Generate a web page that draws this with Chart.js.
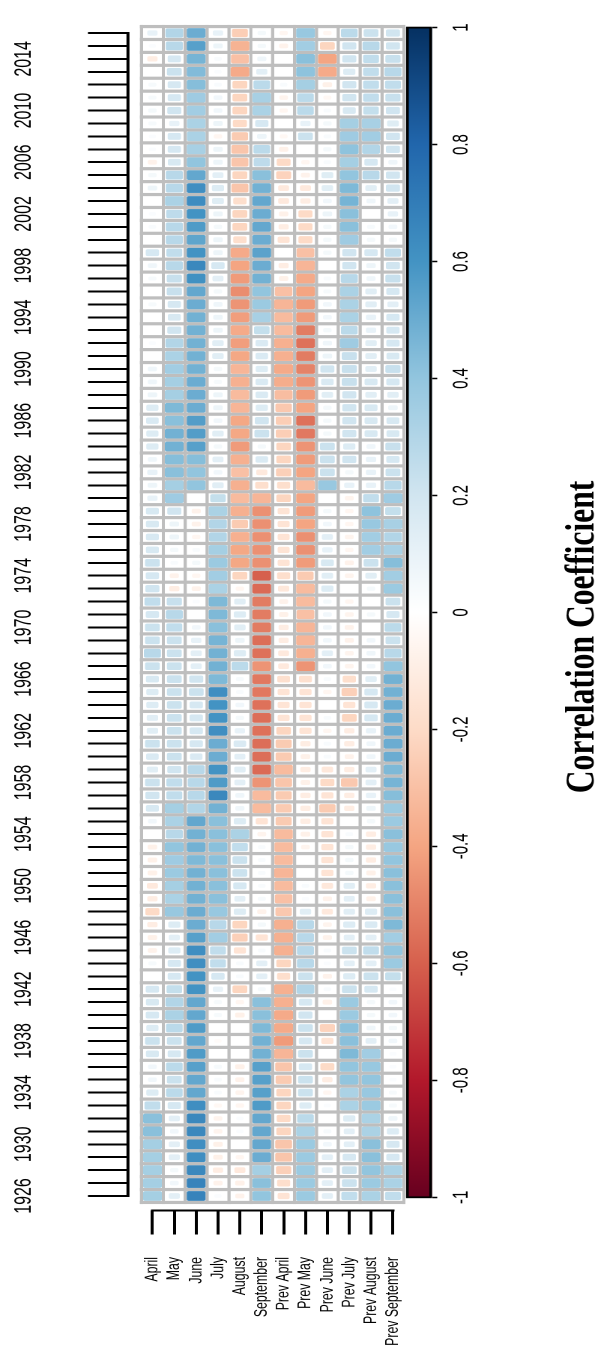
<!DOCTYPE html>
<html>
<head>
<meta charset="utf-8">
<script src="https://cdn.jsdelivr.net/npm/chart.js@4.4.1/dist/chart.umd.min.js"></script>
<style>
  html, body { margin: 0; padding: 0; background: #fff; overflow: hidden; width: 595px; height: 1354px; }
  /* chart is laid out in landscape, then turned a quarter counter-clockwise */
  #wrap { position: absolute; left: 0; top: 0; width: 1354px; height: 410px;
          transform-origin: 0 0; transform: matrix(0, -1, 1.49874, 0, 0, 1354); }
</style>
</head>
<body>
<div id="wrap"><canvas id="heat" width="1354" height="410"></canvas></div>
<script>
const months = ['April', 'May', 'June', 'July', 'August', 'September',
  'Prev April', 'Prev May', 'Prev June', 'Prev July', 'Prev August', 'Prev September'];

const years = [];
for (let y = 1926; y <= 2016; y++) years.push(y);

const labeledYears = [1926, 1930, 1934, 1938, 1942, 1946, 1950, 1954, 1958, 1962, 1966, 1970,
  1974, 1978, 1982, 1986, 1990, 1994, 1998, 2002, 2006, 2010, 2014];
const colorTicks = [-1, -0.8, -0.6, -0.4, -0.2, 0, 0.2, 0.4, 0.6, 0.8, 1];

// correlation per month, 1926 -> 2016
const april = [0.34, 0.34, 0.34, 0.34, 0.34, 0.42, 0.42, 0.25, 0.15, 0.06,
  0.06, 0.17, 0.22, 0.15, 0.18, 0.17, 0.18, 0.00, 0.04, -0.07,
  -0.08, -0.10, -0.20, -0.10, -0.12, -0.08, -0.08, -0.08, 0.00, 0.06,
  0.17, 0.20, 0.22, 0.13, 0.16, 0.22, 0.13, 0.13, 0.15, 0.15,
  0.17, 0.22, 0.28, 0.22, 0.22, 0.18, 0.25, 0.20, 0.18, 0.22,
  0.17, 0.17, 0.17, 0.17, 0.10, 0.08, 0.10, 0.07, 0.15, 0.15,
  0.16, 0.15, 0.08, 0.07, 0.07, 0.00, 0.02, 0.00, 0.00, 0.04,
  0.00, 0.04, 0.07, 0.18, 0.00, 0.03, 0.02, 0.00, 0.08, 0.05,
  -0.07, 0.02, 0.02, 0.04, 0.05, 0.04, 0.04, 0.00, -0.10, 0.02, 0.10];
const may = [0.12, 0.06, 0.05, 0.12, 0.12, 0.06, 0.12, 0.18, 0.27, 0.22,
  0.27, 0.18, 0.22, 0.27, 0.32, 0.30, 0.24, 0.18, 0.18, 0.15,
  0.12, 0.15, 0.38, 0.32, 0.34, 0.37, 0.36, 0.40, 0.28, 0.32,
  0.34, 0.25, 0.25, 0.20, 0.22, 0.22, 0.22, 0.22, 0.22, 0.22,
  0.22, 0.22, 0.22, 0.22, 0.25, 0.28, 0.23, -0.10, -0.07, 0.03,
  0.05, 0.08, 0.08, 0.20, 0.36, 0.34, 0.42, 0.43, 0.48, 0.48,
  0.42, 0.45, 0.34, 0.34, 0.35, 0.32, 0.30, 0.20, 0.17, 0.18,
  0.23, 0.23, 0.28, 0.25, 0.28, 0.28, 0.26, 0.32, 0.28, 0.28,
  0.17, 0.18, 0.18, 0.10, 0.20, 0.18, 0.18, 0.22, 0.18, 0.28, 0.30];
const june = [0.67, 0.67, 0.65, 0.62, 0.62, 0.65, 0.65, 0.62, 0.52, 0.52,
  0.55, 0.57, 0.52, 0.57, 0.52, 0.52, 0.60, 0.60, 0.62, 0.62,
  0.55, 0.50, 0.50, 0.48, 0.48, 0.48, 0.45, 0.48, 0.48, 0.52,
  0.30, 0.28, 0.28, 0.28, 0.16, 0.18, 0.18, 0.18, 0.18, 0.22,
  0.20, 0.12, 0.12, 0.10, 0.06, 0.00, 0.02, -0.07, -0.05, 0.05,
  0.03, -0.05, -0.07, -0.07, 0.00, 0.40, 0.40, 0.43, 0.55, 0.56,
  0.56, 0.50, 0.50, 0.50, 0.48, 0.48, 0.48, 0.48, 0.48, 0.50,
  0.52, 0.61, 0.65, 0.60, 0.53, 0.57, 0.60, 0.63, 0.62, 0.52,
  0.40, 0.33, 0.32, 0.32, 0.35, 0.36, 0.43, 0.44, 0.47, 0.55, 0.50];
const july = [0.02, -0.07, -0.10, -0.08, -0.08, -0.06, -0.06, -0.04, 0.03, 0.03,
  0.04, 0.00, -0.02, 0.00, 0.04, 0.04, 0.10, 0.18, 0.25, 0.25,
  0.35, 0.28, 0.38, 0.42, 0.42, 0.42, 0.42, 0.42, 0.42, 0.42,
  0.48, 0.65, 0.57, 0.60, 0.50, 0.50, 0.62, 0.60, 0.60, 0.62,
  0.45, 0.48, 0.48, 0.47, 0.42, 0.45, 0.45, 0.32, 0.35, 0.37,
  0.34, 0.30, 0.30, 0.32, 0.24, 0.13, 0.06, 0.12, 0.05, 0.13,
  0.06, 0.08, 0.08, 0.04, 0.05, 0.13, 0.13, 0.08, 0.08, 0.07,
  0.05, 0.12, 0.18, 0.08, 0.08, 0.05, 0.08, 0.14, 0.15, 0.12,
  0.08, 0.08, -0.05, 0.08, 0.06, 0.06, 0.03, 0.02, 0.03, 0.08, 0.10];
const august = [-0.07, -0.08, -0.12, -0.05, 0.00, 0.02, 0.02, -0.05, -0.06, -0.07,
  -0.08, 0.00, 0.00, 0.00, -0.08, -0.05, -0.22, 0.03, 0.03, -0.15,
  -0.24, -0.22, 0.15, 0.12, 0.18, 0.22, 0.22, 0.25, 0.32, 0.15,
  0.07, 0.07, 0.12, 0.13, 0.12, 0.16, 0.10, 0.05, 0.06, 0.03,
  0.04, 0.27, 0.15, 0.08, 0.13, 0.15, 0.13, -0.05, -0.22, -0.39,
  -0.39, -0.36, -0.26, -0.36, -0.32, -0.36, -0.30, -0.36, -0.43, -0.39,
  -0.39, -0.34, -0.32, -0.36, -0.34, -0.39, -0.42, -0.38, -0.42, -0.45,
  -0.47, -0.43, -0.40, -0.38, -0.18, -0.22, -0.22, -0.18, -0.28, -0.22,
  -0.28, -0.28, -0.26, -0.20, -0.22, -0.22, -0.22, -0.38, -0.30, -0.35, -0.25];
const september = [0.40, 0.42, 0.34, 0.50, 0.52, 0.52, 0.52, 0.57, 0.55, 0.55,
  0.55, 0.48, 0.48, 0.45, 0.42, 0.42, 0.04, 0.12, 0.12, 0.03,
  -0.15, 0.05, -0.07, 0.04, 0.03, 0.03, 0.03, 0.03, -0.06, -0.15,
  -0.32, -0.32, -0.45, -0.57, -0.56, -0.56, -0.55, -0.56, -0.55, -0.53,
  -0.53, -0.45, -0.55, -0.56, -0.52, -0.52, -0.52, -0.57, -0.60, -0.46,
  -0.46, -0.46, -0.46, -0.46, -0.34, -0.18, -0.12, 0.16, 0.05, 0.22,
  0.20, 0.15, 0.16, 0.16, 0.15, 0.16, 0.16, 0.24, 0.33, 0.37,
  0.40, 0.48, 0.50, 0.54, 0.50, 0.52, 0.50, 0.52, 0.48, 0.42,
  0.26, 0.27, 0.08, 0.18, 0.32, 0.33, 0.27, 0.12, 0.07, 0.05, 0.05];
const prevApril = [-0.15, -0.18, -0.24, -0.28, -0.28, -0.22, -0.20, -0.22, -0.22, -0.26,
  -0.28, -0.34, -0.43, -0.38, -0.38, -0.36, -0.36, -0.18, -0.22, -0.36,
  -0.36, -0.36, -0.27, -0.30, -0.32, -0.34, -0.32, -0.32, -0.32, -0.26,
  -0.26, -0.26, -0.28, -0.32, -0.26, -0.26, -0.22, -0.15, -0.15, -0.15,
  -0.17, -0.12, -0.12, -0.10, -0.10, -0.08, -0.07, -0.13, -0.18, -0.15,
  -0.15, -0.15, -0.15, -0.15, -0.22, -0.18, -0.24, -0.22, -0.22, -0.25,
  -0.25, -0.27, -0.31, -0.37, -0.38, -0.36, -0.36, -0.32, -0.32, -0.34,
  -0.30, -0.08, -0.10, 0.00, -0.15, -0.10, -0.08, -0.12, -0.12, -0.23,
  -0.20, -0.08, -0.04, 0.00, -0.05, -0.06, 0.03, 0.00, 0.00, -0.07, -0.05];
const prevMay = [0.37, 0.37, 0.37, 0.37, 0.37, 0.32, 0.27, 0.15, 0.22, 0.22,
  0.18, 0.22, 0.18, 0.22, 0.20, 0.18, 0.30, 0.22, 0.28, 0.28,
  0.28, 0.28, 0.13, 0.02, 0.03, 0.00, 0.00, -0.06, -0.08, -0.10,
  -0.10, -0.10, -0.08, -0.10, -0.08, -0.10, -0.15, -0.15, -0.15, -0.15,
  -0.17, -0.45, -0.36, -0.34, -0.34, -0.30, -0.32, -0.32, -0.26, -0.43,
  -0.46, -0.46, -0.40, -0.43, -0.40, -0.32, -0.40, -0.43, -0.45, -0.53,
  -0.55, -0.40, -0.43, -0.45, -0.50, -0.52, -0.55, -0.52, -0.43, -0.43,
  -0.40, -0.38, -0.34, -0.30, -0.20, -0.20, -0.20, -0.10, -0.12, -0.07,
  -0.05, 0.00, 0.22, 0.10, 0.27, 0.27, 0.34, 0.41, 0.42, 0.35, 0.38];
const prevJune = [0.12, 0.12, 0.12, 0.12, 0.06, 0.04, 0.00, 0.02, -0.05, -0.10,
  -0.20, 0.00, -0.15, -0.23, 0.00, -0.08, 0.03, -0.07, 0.02, 0.03,
  -0.07, -0.06, -0.12, -0.07, -0.13, -0.15, -0.15, -0.15, -0.15, -0.15,
  -0.26, -0.15, -0.20, -0.13, 0.03, 0.03, -0.05, 0.03, 0.00, -0.05,
  0.03, 0.06, 0.12, 0.06, 0.06, 0.06, 0.05, 0.15, 0.13, 0.17,
  0.10, 0.12, 0.06, 0.05, 0.00, 0.38, 0.22, 0.22, 0.22, 0.05,
  0.05, 0.05, 0.13, 0.16, 0.20, 0.08, 0.07, 0.05, 0.06, 0.06,
  0.04, 0.03, 0.00, 0.05, 0.05, 0.05, 0.08, 0.06, 0.13, 0.14,
  0.03, 0.05, 0.03, 0.05, 0.03, -0.04, -0.08, -0.38, -0.40, -0.22, -0.05];
const prevJuly = [0.25, 0.22, 0.22, 0.18, 0.12, 0.12, 0.15, 0.32, 0.32, 0.40,
  0.40, 0.45, 0.42, 0.42, 0.37, 0.37, 0.22, 0.15, 0.12, 0.22,
  0.12, 0.15, 0.13, 0.12, 0.13, 0.05, 0.05, 0.05, 0.03, 0.00,
  -0.10, -0.10, -0.27, -0.10, -0.07, -0.10, -0.10, -0.22, -0.15, -0.24,
  -0.18, -0.06, -0.06, -0.07, -0.07, -0.06, -0.05, 0.00, -0.06, -0.07,
  -0.05, -0.06, -0.05, -0.05, -0.06, 0.10, 0.05, 0.20, 0.15, 0.20,
  0.20, 0.20, 0.20, 0.23, 0.23, 0.23, 0.36, 0.27, 0.32, 0.32,
  0.32, 0.28, 0.20, 0.20, 0.36, 0.42, 0.42, 0.47, 0.45, 0.40,
  0.34, 0.41, 0.36, 0.34, 0.17, 0.20, 0.20, 0.15, 0.20, 0.20, 0.27];
const prevAugust = [0.32, 0.37, 0.40, 0.42, 0.42, 0.32, 0.32, 0.37, 0.38, 0.40,
  0.38, 0.35, 0.12, 0.07, 0.05, 0.05, 0.18, 0.22, 0.12, 0.25,
  0.12, 0.16, 0.15, -0.08, -0.10, -0.08, -0.10, -0.10, -0.10, 0.05,
  0.08, 0.10, 0.12, 0.12, 0.07, 0.07, 0.10, 0.18, 0.18, 0.18,
  0.13, 0.06, 0.07, 0.06, 0.00, 0.05, 0.00, 0.05, 0.13, 0.22,
  0.35, 0.35, 0.38, 0.41, 0.25, 0.10, 0.10, 0.10, 0.07, 0.17,
  0.17, 0.17, 0.13, 0.17, 0.13, 0.13, 0.13, 0.10, 0.10, 0.13,
  0.13, 0.07, 0.08, 0.18, 0.05, 0.04, 0.00, 0.07, 0.13, 0.28,
  0.18, 0.30, 0.35, 0.33, 0.24, 0.25, 0.25, 0.25, 0.25, 0.28, 0.22];
const prevSeptember = [0.25, 0.32, 0.32, 0.18, 0.18, 0.15, 0.07, 0.04, 0.04, 0.02,
  0.02, 0.02, 0.06, 0.05, 0.06, 0.06, 0.02, 0.24, 0.37, 0.40,
  0.35, 0.45, 0.42, 0.42, 0.42, 0.42, 0.40, 0.38, 0.42, 0.37,
  0.37, 0.43, 0.47, 0.45, 0.50, 0.50, 0.50, 0.50, 0.50, 0.48,
  0.48, 0.40, 0.28, 0.22, 0.27, 0.18, 0.22, 0.37, 0.35, 0.43,
  0.33, 0.30, 0.33, 0.24, 0.36, 0.28, 0.22, 0.18, 0.23, 0.17,
  0.17, 0.08, 0.13, 0.18, 0.23, 0.17, 0.18, 0.18, 0.18, 0.12,
  0.18, 0.23, 0.20, 0.25, 0.05, 0.06, 0.10, 0.12, 0.20, 0.20,
  0.07, 0.20, 0.20, 0.14, 0.20, 0.23, 0.25, 0.28, 0.23, 0.20, 0.20];

const series = [april, may, june, july, august, september,
  prevApril, prevMay, prevJune, prevJuly, prevAugust, prevSeptember];

// corrplot's RdBu ramp, -1 .. 1
const rdbu = ['#67001F', '#B2182B', '#D6604D', '#F4A582', '#FDDBC7', '#FFFFFF',
  '#D1E5F0', '#92C5DE', '#4393C3', '#2166AC', '#053061'];
const rgb = rdbu.map(h => [1, 3, 5].map(i => parseInt(h.slice(i, i + 2), 16)));

function corColor(v) {
  const t = (Math.max(-1, Math.min(1, v)) + 1) / 2 * 10;
  const i = Math.min(9, Math.floor(t));
  const f = t - i;
  const c = rgb[i].map((a, k) => Math.round(a + (rgb[i + 1][k] - a) * f));
  return `rgb(${c[0]},${c[1]},${c[2]})`;
}

const GRAY = '#bebebe';
const GAP_U = 3.2;   // gray line between years
const GAP_V = 2.1;   // gray line between months

// transparent border = gray half-line + white margin around the colored block
function cellInset(ctx) {
  const c = ctx.chart;
  const r = ctx.raw ? Math.abs(ctx.raw.r) : 0;
  const pu = Math.abs(c.scales.x.getPixelForValue(1) - c.scales.x.getPixelForValue(0));
  const pv = Math.abs(c.scales.y.getPixelForValue(1) - c.scales.y.getPixelForValue(0));
  const f = Math.min(1, 0.35 + 2 * r);
  const h = GAP_U / 2 + (1 - f) / 2 * (pu - GAP_U);
  const v = GAP_V / 2 + (1 - f) / 2 * (pv - GAP_V);
  return {left: h, right: h, top: v, bottom: v};
}

const datasets = series.map((vals, m) => ({
  label: months[m],
  data: vals.map((v, i) => ({x: years[i], y: [m, m + 1], r: v})),
  grouped: false,
  barPercentage: 1,
  categoryPercentage: 1,
  inflateAmount: 0,
  borderSkipped: false,
  borderColor: 'rgba(0,0,0,0)',
  borderWidth: cellInset,
  borderRadius: (ctx) => { const b = cellInset(ctx); return Math.max(b.left, b.top) + 1.5; },
  backgroundColor: (ctx) => ctx.raw ? corColor(ctx.raw.r) : '#fff'
}));

const framePlugin = {
  id: 'frame',
  beforeDatasetsDraw(chart) {
    const {ctx, scales: {x, y}} = chart;
    const l = x.getPixelForValue(years[0] - 0.5), r = x.getPixelForValue(years[years.length - 1] + 0.5);
    const t = y.getPixelForValue(0), b = y.getPixelForValue(months.length);
    ctx.save();
    ctx.fillStyle = '#fff';
    ctx.fillRect(l, t, r - l, b - t);
    ctx.strokeStyle = GRAY;
    ctx.lineWidth = GAP_U;
    ctx.beginPath();
    for (let i = 0; i <= years.length; i++) {
      const px = x.getPixelForValue(years[0] - 0.5 + i);
      ctx.moveTo(px, t - GAP_V / 2); ctx.lineTo(px, b + GAP_V / 2);
    }
    ctx.stroke();
    ctx.lineWidth = GAP_V;
    ctx.beginPath();
    for (let m = 0; m <= months.length; m++) {
      const py = y.getPixelForValue(m);
      ctx.moveTo(l - GAP_U / 2, py); ctx.lineTo(r + GAP_U / 2, py);
    }
    ctx.stroke();
    ctx.restore();
  },
  afterDraw(chart) {
    const {ctx, chartArea: area, scales: {x, y, cb}} = chart;
    ctx.save();
    ctx.strokeStyle = '#000';
    ctx.lineWidth = 2;
    ctx.beginPath();
    // year axis line, first to last tick
    ctx.moveTo(x.getPixelForValue(years[0]) - 1, area.top);
    ctx.lineTo(x.getPixelForValue(years[years.length - 1]) + 1, area.top);
    // month axis line
    ctx.moveTo(area.left, y.getPixelForValue(0.5) - 1);
    ctx.lineTo(area.left, y.getPixelForValue(months.length - 0.5) + 1);
    ctx.stroke();

    // colour key
    const x0 = cb.getPixelForValue(-1), x1 = cb.getPixelForValue(1);
    const top = y.getPixelForValue(12.1), bot = area.bottom;
    const g = ctx.createLinearGradient(x0, 0, x1, 0);
    rdbu.forEach((c, i) => g.addColorStop(i / 10, c));
    ctx.fillStyle = g;
    ctx.fillRect(x0, top, x1 - x0, bot - top);
    ctx.lineWidth = 1.8;
    ctx.strokeRect(x0, top + 0.9, x1 - x0, bot - top - 1.8);

    // key title, centred on the page rather than on the key
    ctx.translate(717, 395.8);
    ctx.scale(1.17, 1);
    ctx.fillStyle = '#000';
    ctx.font = "bold 27px 'Liberation Serif', 'Times New Roman', serif";
    ctx.textAlign = 'center';
    ctx.textBaseline = 'alphabetic';
    ctx.fillText('Correlation Coefficient', 0, 0);
    ctx.restore();
  }
};

Chart.defaults.font.family = "'Liberation Sans', Arial, sans-serif";
Chart.defaults.color = '#000';

new Chart(document.getElementById('heat'), {
  type: 'bar',
  data: {datasets},
  plugins: [framePlugin],
  options: {
    responsive: false,
    animation: false,
    devicePixelRatio: 2,
    layout: {padding: {left: 0, top: 0, bottom: 0, right: 2.9}},
    plugins: {legend: {display: false}, tooltip: {enabled: false}},
    scales: {
      x: {
        type: 'linear',
        position: 'top',
        min: 1924.877,
        max: 2016.5,
        offset: false,
        afterBuildTicks: (s) => { s.ticks = years.map(v => ({value: v})); },
        afterFit: (s) => { s.height = 85.4; },
        border: {display: false},
        grid: {offset: false, drawOnChartArea: false, drawTicks: true, tickLength: 26.7,
               tickWidth: 2, tickColor: '#000'},
        ticks: {autoSkip: false, maxRotation: 0, minRotation: 0, padding: 33,
                font: {size: 16}, color: '#000',
                callback: (v) => labeledYears.includes(v) ? String(v) : ''}
      },
      y: {
        type: 'linear',
        position: 'left',
        reverse: true,
        min: -0.6176,
        max: 13.285,
        afterBuildTicks: (s) => { s.ticks = months.map((_, i) => ({value: i + 0.5})); },
        afterFit: (s) => { s.width = 143.5; },
        border: {display: false},
        grid: {drawOnChartArea: false, drawTicks: true, tickLength: 24, tickWidth: 2, tickColor: '#000'},
        ticks: {autoSkip: false, padding: 22.5, font: {size: 12.3}, color: '#000',
                callback: (v, i) => months[i]}
      },
      cb: {
        type: 'linear',
        axis: 'x',
        position: 'bottom',
        min: -1.0226,
        max: 1.0018,
        offset: false,
        afterBuildTicks: (s) => { s.ticks = colorTicks.map(v => ({value: v})); },
        afterFit: (s) => { s.height = 410 - 288.25; },
        border: {display: false},
        grid: {offset: false, drawOnChartArea: false, drawTicks: true, tickLength: 3.5, tickWidth: 1.5,
               tickColor: '#000'},
        ticks: {autoSkip: false, maxRotation: 0, minRotation: 0, padding: 7, font: {size: 15}, color: '#000',
                callback: (v) => String(v)}
      }
    }
  }
});
</script>
</body>
</html>
